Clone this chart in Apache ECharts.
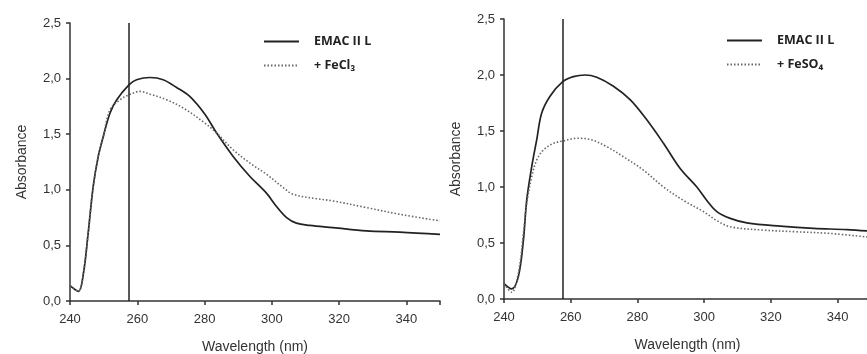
<!DOCTYPE html>
<html><head><meta charset="utf-8">
<script src="https://cdn.jsdelivr.net/npm/echarts@6/dist/echarts.min.js"></script>
<style>html,body{margin:0;padding:0;background:#fff}#c{width:867px;height:354px}</style>
</head><body><div id="c"></div>
<script>
// Left panel: EMAC II L vs + FeCl3
const leftSolidX = [240,242.5,244,245.4,246.9,248.4,249.9,251.9,253.9,257.6,259.8,263.8,267.7,271.7,275.6,280.1,283.6,288.5,293.5,298.4,301.4,304.4,307.3,311.3,318.2,328.1,338,350];
const leftSolidY = [0.138,0.087,0.25,0.61,1.03,1.30,1.48,1.69,1.81,1.945,1.99,2.01,1.99,1.92,1.84,1.68,1.51,1.30,1.12,0.97,0.85,0.75,0.70,0.68,0.66,0.63,0.62,0.60];
const leftDotX = [240,242.5,244,245.4,246.9,248.4,249.9,251.9,254.9,257.6,260.8,263.8,268.7,273.7,280.1,283.6,288.5,293.5,298.4,303.4,306.3,313.3,318.2,328.1,338,350];
const leftDotY = [0.138,0.087,0.25,0.61,1.03,1.30,1.48,1.72,1.81,1.855,1.885,1.86,1.81,1.735,1.60,1.51,1.36,1.24,1.14,1.02,0.96,0.92,0.90,0.84,0.78,0.72];
// Right panel: EMAC II L vs + FeSO4
const rightSolidX = [240,242.3,244.3,245.8,246.8,248.3,249.8,251.3,253.8,257.6,260.8,264.3,267.8,272.8,277.8,282.8,287.8,292.8,297.8,300.8,303.8,307.8,312.8,322.8,332.8,342.8,350];
const rightSolidY = [0.137,0.09,0.20,0.52,0.88,1.18,1.42,1.66,1.81,1.94,1.985,2.0,1.98,1.90,1.78,1.60,1.39,1.165,1.00,0.88,0.78,0.72,0.68,0.65,0.63,0.62,0.605];
const rightDotX = [240,242.3,244.3,245.8,246.8,248.3,249.8,251.8,254.8,257.6,261.8,265.8,270.8,275.8,281.8,287.8,293.8,299.8,303.8,307.8,317.8,327.8,337.8,350];
const rightDotY = [0.137,0.06,0.23,0.58,0.85,1.09,1.24,1.33,1.39,1.41,1.435,1.425,1.36,1.27,1.15,1.00,0.88,0.78,0.70,0.645,0.615,0.60,0.585,0.55];
const markWavelength = 257.6;
const xTicks = {min:240, max:350, interval:20};
const yTicks = {min:0, max:2.5, interval:0.5};
const seriesNames = ['EMAC II L', '+ FeCl₃', '+ FeSO₄'];

const pairs = (xs, ys) => xs.map((x,i)=>[x, ys[i]]);
const fmt = v => v.toFixed(1).replace('.', ',');
const axisCol = '#333';
const font = 'Liberation Sans';

function xAxis(idx){
  return {type:'value', gridIndex:idx, min:xTicks.min, max:xTicks.max, interval:xTicks.interval,
    name:'Wavelength (nm)', nameLocation:'middle', nameGap:39,
    nameTextStyle:{fontFamily:font, fontSize:14, color:'#333'},
    axisLine:{lineStyle:{color:axisCol, width:1.5}}, axisTick:{show:true, length:4, lineStyle:{color:axisCol, width:1.5}},
    axisLabel:{fontFamily:font, fontSize:13, color:'#333', margin:12,
      formatter: v => (v===350 ? '' : String(v))},
    splitLine:{show:false}};
}
function yAxis(idx){
  return {type:'value', gridIndex:idx, min:yTicks.min, max:yTicks.max, interval:yTicks.interval,
    name:'Absorbance', nameLocation:'middle', nameGap:41, nameRotate:90,
    nameTextStyle:{fontFamily:font, fontSize:14, color:'#333'},
    axisLine:{show:true, lineStyle:{color:axisCol, width:1.5}}, axisTick:{show:true, length:4, lineStyle:{color:axisCol, width:1.5}},
    axisLabel:{fontFamily:font, fontSize:13, color:'#333', margin:9, formatter:fmt},
    splitLine:{show:false}};
}
function lineSeries(name, idx, data, dotted){
  return {type:'line', name:name, xAxisIndex:idx, yAxisIndex:idx, data:data, showSymbol:false, symbol:'none',
    smooth:0.35, z:3, animation:false,
    lineStyle: dotted ? {color:'#666', width:1.6, type:[1.5,2]} : {color:'#222', width:1.7},
    itemStyle:{color: dotted ? '#666' : '#222'}};
}
const mark = {silent:true, symbol:['none','none'], label:{show:false}, animation:false,
  lineStyle:{color:'#222', width:1.5, type:'solid'}, data:[{xAxis:markWavelength}]};

const s0 = lineSeries(seriesNames[0], 0, pairs(leftSolidX, leftSolidY), false);
s0.markLine = mark;
const s1 = lineSeries(seriesNames[1], 0, pairs(leftDotX, leftDotY), true);
const s2 = lineSeries(seriesNames[0], 1, pairs(rightSolidX, rightSolidY), false);
s2.markLine = mark;
const s3 = lineSeries(seriesNames[2], 1, pairs(rightDotX, rightDotY), true);

const legendBase = {orient:'vertical', itemWidth:35, itemHeight:10, itemGap:11,
  itemStyle:{opacity:0},
  textStyle:{fontFamily:'Open Sans', fontWeight:'bold', fontSize:12.5, color:'#222', padding:[0,0,0,10]}};

const chart = echarts.init(document.getElementById('c'), null, {renderer:'canvas'});
chart.setOption({
  animation:false,
  backgroundColor:'#fff',
  grid:[{left:70, top:23, right:427, bottom:53, outerBoundsMode:'none', containLabel:false},
        {left:504, top:19, right:-4, bottom:55, outerBoundsMode:'none', containLabel:false}],
  xAxis:[xAxis(0), xAxis(1)],
  yAxis:[yAxis(0), yAxis(1)],
  legend:[Object.assign({}, legendBase, {left:258, top:30, data:[seriesNames[0], seriesNames[1]]}),
          Object.assign({}, legendBase, {left:721, top:29, data:[{name:seriesNames[0]}, {name:seriesNames[2]}]})],
  series:[s0, s1, s2, s3]
});
</script></body></html>
